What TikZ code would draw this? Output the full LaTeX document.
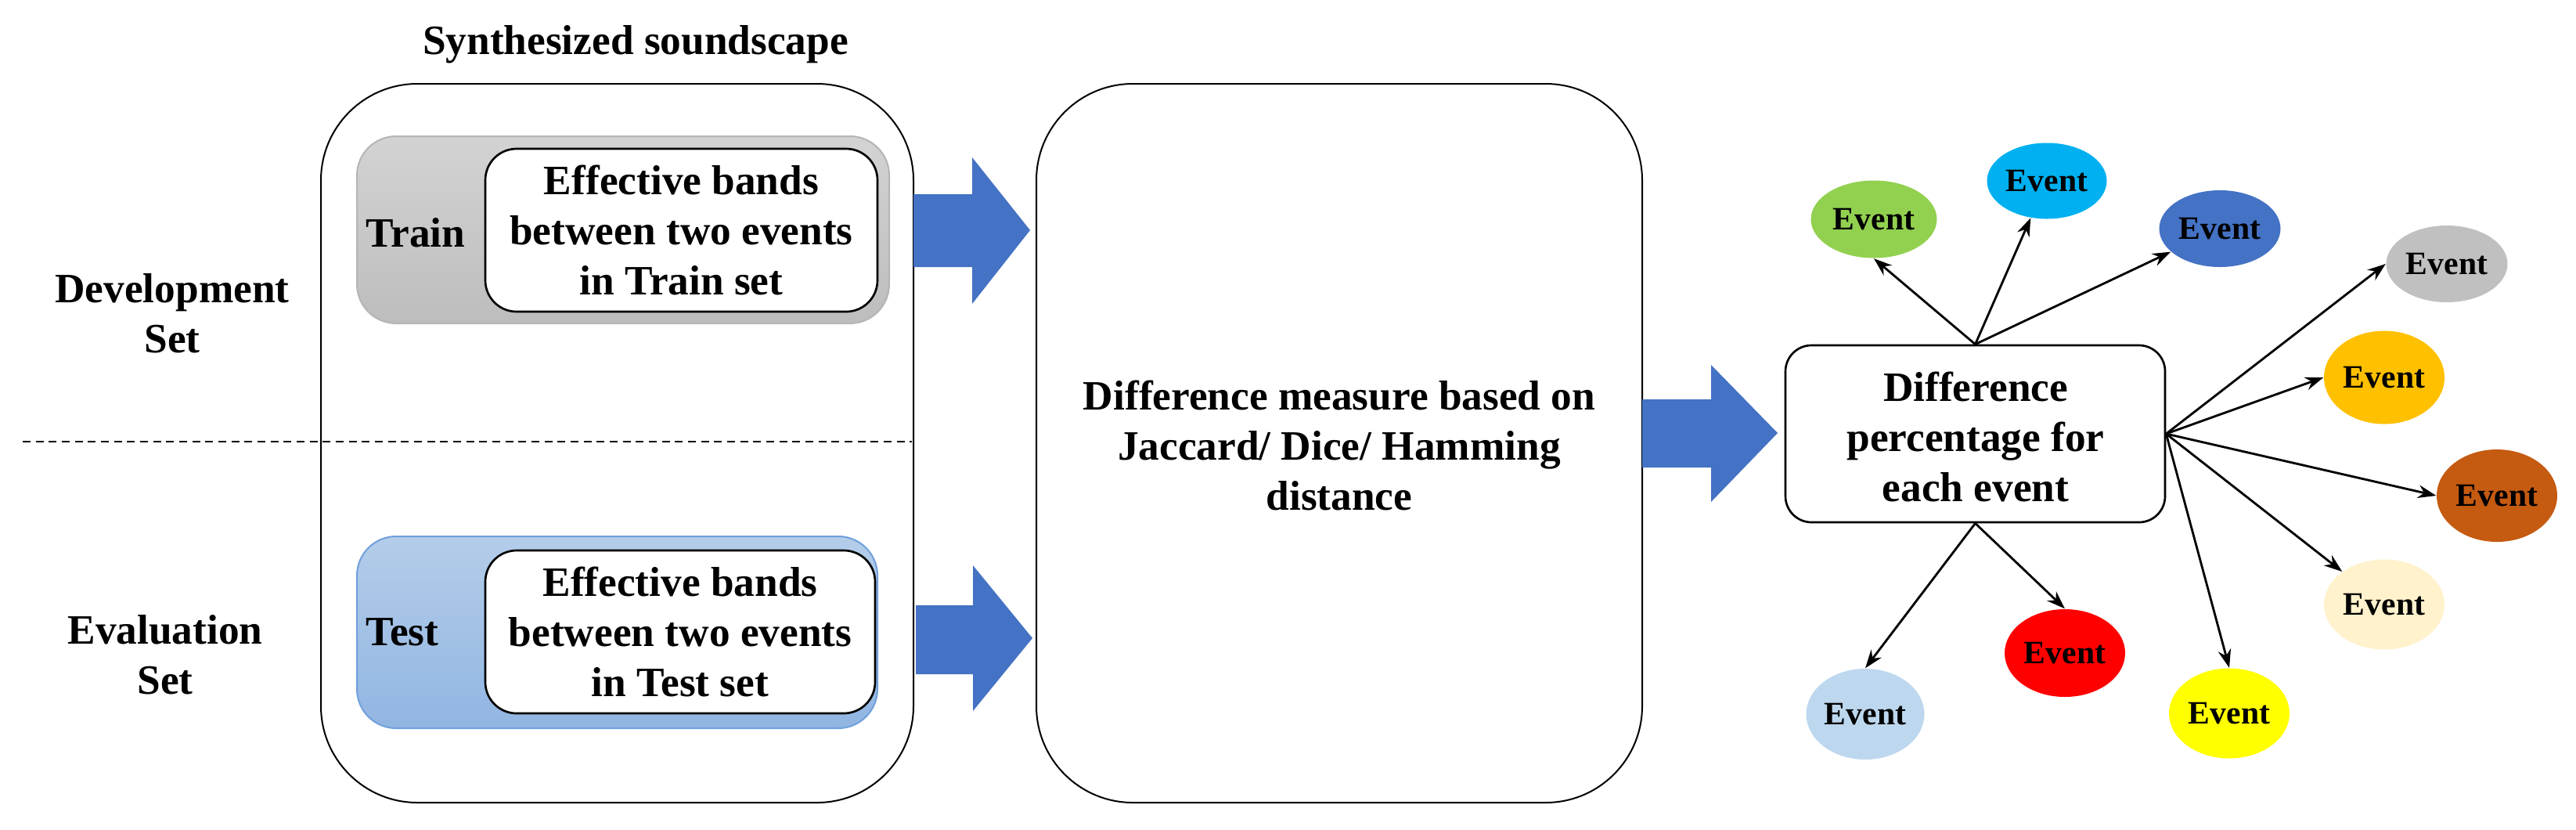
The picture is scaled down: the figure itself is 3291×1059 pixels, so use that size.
\documentclass[tikz,border=0pt]{standalone}
\usepackage{fontspec}
\setmainfont{Liberation Serif}
\usetikzlibrary{fit,arrows.meta,shapes.geometric}
\definecolor{arrowblue}{HTML}{4472C4}
\definecolor{graytop}{HTML}{D3D3D3}
\definecolor{graybot}{HTML}{BDBDBD}
\definecolor{grayedge}{HTML}{B5B5B5}
\definecolor{bluetop}{HTML}{B4CDE9}
\definecolor{bluebot}{HTML}{91B5E2}
\definecolor{blueedge}{HTML}{6FA0DC}
\definecolor{evgreen}{HTML}{92D050}
\definecolor{evcyan}{HTML}{00B0F0}
\definecolor{evblue}{HTML}{4472C4}
\definecolor{evgray}{HTML}{C0C0C0}
\definecolor{evgold}{HTML}{FFC000}
\definecolor{evbrown}{HTML}{C55A11}
\definecolor{evcream}{HTML}{FFF2CC}
\definecolor{evyellow}{HTML}{FFFF00}
\definecolor{evred}{HTML}{FF0000}
\definecolor{evlight}{HTML}{BDD7EE}
\begin{document}
\begin{tikzpicture}[x=0.3pt,y=-0.3pt,
  lbl/.style={font=\fontsize{16}{19.2}\selectfont\bfseries, align=center, inner sep=0pt},
  bigbox/.style={draw=black, line width=0.6pt, rounded corners=37pt, inner sep=0pt},
  setbox/.style={line width=0.6pt, rounded corners=15pt, inner sep=0pt},
  whitebox/.style={draw=black, fill=white, line width=0.8pt, rounded corners=12pt, inner sep=0pt,
    font=\fontsize{16}{19.2}\selectfont\bfseries, align=center},
  ev/.style={ellipse, inner sep=0pt, font=\fontsize{12.5}{14}\selectfont\bfseries},
  link/.style={line width=0.85pt, -{Stealth[length=7pt,width=5pt]}},
  blockarrow/.style={fill=arrowblue}
]
\useasboundingbox (0,0) rectangle (3291,1059);

% title
\node[lbl] (title) at (812,57) {Synthesized soundscape};

% left big box
\node[bigbox, fit={(410,107) (1167,1025)}] (L) {};

% side labels
\node[lbl] (dev) at (220,400) {Development\\Set};
\node[lbl] (eval) at (211,836) {Evaluation\\Set};

% dashed separator
\coordinate (dashL) at (29,564);
\coordinate (dashR) at (1165,564);
\draw[line width=0.6pt, dash pattern=on 3pt off 2pt, black] (dashL) -- (dashR);

% train set box
\node[setbox, draw=grayedge, top color=graytop, bottom color=graybot, fit={(456,174) (1136,413)}] (trainbg) {};
\node[whitebox, fit={(620,190) (1121,398)}] (trainbox) {};
\node[whitebox, draw=none, fill=none] (traintxt) at (trainbox.center) {Effective bands\\between two events\\in Train set};
\node[lbl] (trainlbl) at (531,297) {Train};

% test set box
\node[setbox, draw=blueedge, top color=bluetop, bottom color=bluebot, fit={(456,685) (1121,930)}] (testbg) {};
\node[whitebox, fit={(620,703) (1118,911)}] (testbox) {};
\node[whitebox, draw=none, fill=none] (testtxt) at (testbox.center) {Effective bands\\between two events\\in Test set};
\node[lbl] (testlbl) at (514,807) {Test};

% middle box
\node[bigbox, fit={(1324,107) (2098,1025)}] (M) {};
\node[lbl] (mtxt) at (1711,569) {Difference measure based on\\Jaccard/ Dice/ Hamming\\distance};

% right box
\node[draw=black, line width=0.8pt, rounded corners=10pt, inner sep=0pt, fit={(2281,441) (2766,667)}] (R) {};
\node[lbl] (rtxt) at (2524,558) {Difference\\percentage for\\each event};

% block arrows
\fill[blockarrow] (1167,248) -- (1242,248) -- (1242,201) -- (1316,294) -- (1242,388) -- (1242,341) -- (1167,341) -- cycle;
\fill[blockarrow] (1170,773) -- (1243,773) -- (1243,722) -- (1319,815) -- (1243,908) -- (1243,861) -- (1170,861) -- cycle;
\fill[blockarrow] (2098,510) -- (2186,510) -- (2186,466) -- (2271,553) -- (2186,641) -- (2186,597) -- (2098,597) -- cycle;

% events
\node[ev, fill=evgreen,  minimum width=48.3pt, minimum height=29.7pt] (e1) at (2394,280) {Event};
\node[ev, fill=evcyan,   minimum width=45.9pt, minimum height=29.1pt] (e2) at (2615,231) {Event};
\node[ev, fill=evblue,   minimum width=46.5pt, minimum height=29.4pt] (e3) at (2836,292) {Event};
\node[ev, fill=evgray,   minimum width=46.5pt, minimum height=29.4pt] (e4) at (3126,337) {Event};
\node[ev, fill=evgold,   minimum width=46.2pt, minimum height=35.7pt] (e5) at (3046,482) {Event};
\node[ev, fill=evbrown,  minimum width=46.2pt, minimum height=35.4pt] (e6) at (3190,633) {Event};
\node[ev, fill=evcream,  minimum width=46.2pt, minimum height=34.5pt] (e7) at (3046,772) {Event};
\node[ev, fill=evyellow, minimum width=46.2pt, minimum height=34.5pt] (e8) at (2848,911) {Event};
\node[ev, fill=evred,    minimum width=46.2pt, minimum height=33.6pt] (e9) at (2638,834) {Event};
\node[ev, fill=evlight,  minimum width=45.3pt, minimum height=34.8pt] (e10) at (2383,912) {Event};

% links
\draw[link] (R.north) -- (e1.south);
\draw[link] (R.north) -- (e2);
\draw[link] (R.north) -- (e3);
\draw[link] (R.east) -- (e4.west);
\draw[link] (R.east) -- (e5.west);
\draw[link] (R.east) -- (e6.west);
\draw[link] (R.east) -- (e7);
\draw[link] (R.east) -- (e8.north);
\draw[link] (R.south) -- (e9.north);
\draw[link] (R.south) -- (e10.north);
\end{tikzpicture}
\end{document}
